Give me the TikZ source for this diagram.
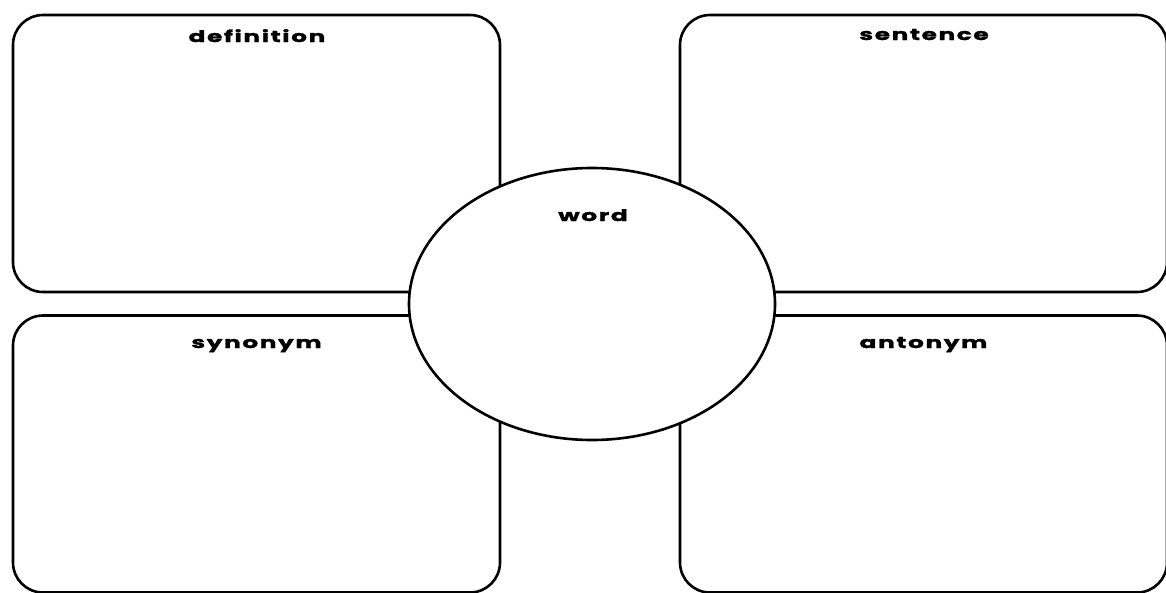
\documentclass[tikz,border=0pt]{standalone}
\usepackage{fontspec}
\setmainfont{Poppins}
\newfontfamily\tagfont[FakeStretch=1.55, LetterSpace=10, FakeBold=1.6]{Poppins}
\usepackage{tikz}
\usetikzlibrary{shapes.geometric, positioning, calc}

\tikzset{
  frame/.style={draw, line width=2.6pt, rounded corners=30pt, fill=white,
    minimum width=487pt, minimum height=277pt, inner sep=0pt},
  title/.style={font=\tagfont\fontsize{16}{18}\selectfont\bfseries, anchor=base, inner sep=0pt},
  bubble/.style={draw, ellipse, line width=2.6pt, fill=white,
    minimum width=366pt, minimum height=272pt, inner sep=0pt}
}

\begin{document}
\begin{tikzpicture}[x=1pt,y=-1pt]
  % Page frame
  \useasboundingbox (0,0) rectangle (1166,592);

  % Four boxes
  \node[frame] (def) at (256.5,153.5) {};
  \node[frame] (sen) at (923.5,153.5) {};
  \node[frame] (syn) at (256.5,454) {};
  \node[frame] (ant) at (923.5,454) {};

  % Centre bubble
  \node[bubble] (word) at (592,304) {};

  % Labels
  \node[title] (tdef) at (257,42) {definition};
  \node[title] (tsen) at (924,40) {sentence};
  \node[title] (tsyn) at (256.5,348) {synonym};
  \node[title] (tant) at (923.5,348) {antonym};
  \node[title] (tword) at (593,221) {word};
\end{tikzpicture}
\end{document}
